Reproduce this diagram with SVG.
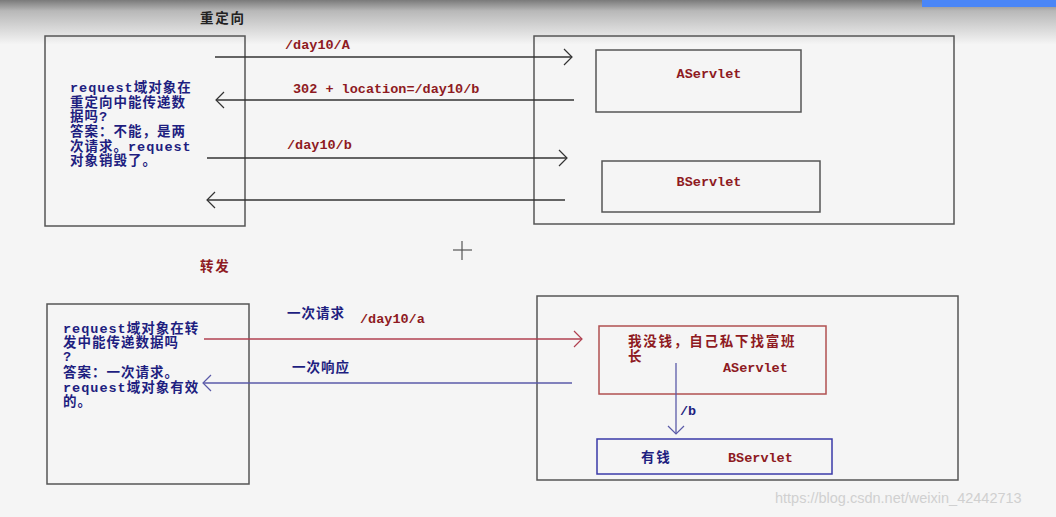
<svg xmlns="http://www.w3.org/2000/svg" width="1056" height="517" viewBox="0 0 1056 517">
<defs>
<linearGradient id="topg" x1="0" y1="0" x2="0" y2="1">
<stop offset="0" stop-color="#7a7a7a"/>
<stop offset="0.25" stop-color="#b8b8b8"/>
<stop offset="1" stop-color="#f4f4f4"/>
</linearGradient>
<marker id="ak" markerUnits="userSpaceOnUse" markerWidth="20" markerHeight="20" refX="10" refY="10" orient="auto">
<path d="M2,2 L10,10 L2,18" fill="none" stroke="#333" stroke-width="1.2"/>
</marker>
<marker id="ar" markerUnits="userSpaceOnUse" markerWidth="20" markerHeight="20" refX="10" refY="10" orient="auto">
<path d="M2,2 L10,10 L2,18" fill="none" stroke="#b04050" stroke-width="1.2"/>
</marker>
<marker id="ab" markerUnits="userSpaceOnUse" markerWidth="20" markerHeight="20" refX="10" refY="10" orient="auto">
<path d="M2,2 L10,10 L2,18" fill="none" stroke="#5a5aa8" stroke-width="1.2"/>
</marker>
</defs>
<style>
.box{fill:none;stroke:#555;stroke-width:1.5}
.t{font-family:"Liberation Mono","Noto Sans CJK SC",monospace;font-weight:bold;font-size:13.5px}
.ls1{letter-spacing:1px}
.ls2{letter-spacing:1.8px}
.navy{fill:#1e1e80}
.red{fill:#8e1a22}
.blk{fill:#222}
.wm{font-family:"Liberation Sans",Arial,sans-serif;font-size:14.5px;fill:#d0d0d0}
</style>
<rect width="1056" height="517" fill="#f5f5f5"/>
<rect x="0" y="0" width="1056" height="44" fill="url(#topg)"/>
<rect x="922" y="0" width="134" height="7" fill="#4a86f7"/>

<text class="t blk ls2" x="200" y="23">重定向</text>
<text class="t red ls2" x="200" y="271">转发</text>

<g id="client1">
<rect class="box" x="45" y="36" width="200" height="190"/>
<text class="t navy ls1" x="70" y="92">request域对象在</text>
<text class="t navy ls1" x="70" y="107">重定向中能传递数</text>
<text class="t navy ls1" x="70" y="121">据吗?</text>
<text class="t navy ls1" x="70" y="136">答案：不能，是两</text>
<text class="t navy ls1" x="70" y="151">次请求。request</text>
<text class="t navy ls1" x="70" y="165">对象销毁了。</text>
</g>
<g id="server1">
<rect class="box" x="534" y="36" width="420" height="188"/>
</g>
<g id="aservlet1">
<rect class="box" x="596" y="50" width="205" height="62"/>
<text class="t red" x="709" y="78" text-anchor="middle">AServlet</text>
</g>
<g id="bservlet1">
<rect class="box" x="602" y="161" width="218" height="51"/>
<text class="t red" x="709" y="186" text-anchor="middle">BServlet</text>
</g>

<g id="client2">
<rect class="box" x="47" y="304" width="202" height="180"/>
<text class="t navy ls1" x="63" y="333">request域对象在转</text>
<text class="t navy ls1" x="63" y="347">发中能传递数据吗</text>
<text class="t navy ls1" x="63" y="361">?</text>
<text class="t navy ls1" x="63" y="377">答案：一次请求。</text>
<text class="t navy ls1" x="63" y="392">request域对象有效</text>
<text class="t navy ls1" x="63" y="406">的。</text>
</g>
<g id="server2">
<rect class="box" x="537" y="296" width="421" height="184"/>
</g>
<g id="aservlet2">
<rect x="599" y="326" width="227" height="68" fill="none" stroke="#b05050" stroke-width="1.5"/>
<text class="t red ls2" x="628" y="346">我没钱，自己私下找富班</text>
<text class="t red" x="628" y="361">长</text>
<text class="t red" x="723" y="372">AServlet</text>
</g>
<g id="bservlet2">
<rect x="597" y="439" width="235" height="35" fill="none" stroke="#3a3aa8" stroke-width="1.5"/>
<text class="t navy ls2" x="641" y="462">有钱</text>
<text class="t red" x="728" y="462">BServlet</text>
</g>

<g id="connectors">
<line x1="215" y1="57" x2="572" y2="57" stroke="#333" stroke-width="1.3" marker-end="url(#ak)"/>
<line x1="574" y1="100" x2="216" y2="100" stroke="#333" stroke-width="1.3" marker-end="url(#ak)"/>
<line x1="207" y1="158" x2="567" y2="158" stroke="#333" stroke-width="1.3" marker-end="url(#ak)"/>
<line x1="565" y1="200" x2="207" y2="200" stroke="#333" stroke-width="1.3" marker-end="url(#ak)"/>
<line x1="204" y1="339" x2="582" y2="339" stroke="#b04050" stroke-width="1.3" marker-end="url(#ar)"/>
<line x1="572" y1="383" x2="203" y2="383" stroke="#5a5aa8" stroke-width="1.3" marker-end="url(#ab)"/>
<line x1="676" y1="363" x2="676" y2="434" stroke="#5a5aa8" stroke-width="1.3" marker-end="url(#ab)"/>
<text class="t red" x="285" y="49">/day10/A</text>
<text class="t red" x="293" y="93">302 + location=/day10/b</text>
<text class="t red" x="287" y="149">/day10/b</text>
<text class="t navy ls1" x="287" y="318">一次请求</text>
<text class="t red" x="360" y="323">/day10/a</text>
<text class="t navy ls1" x="292" y="372">一次响应</text>
<text class="t navy" x="680" y="415">/b</text>
</g>

<g id="cursor" stroke="#555" stroke-width="1.2">
<line x1="453" y1="250" x2="472" y2="250"/>
<line x1="462" y1="241" x2="462" y2="260"/>
</g>

<text class="wm" x="775" y="503">https://blog.csdn.net/weixin_42442713</text>
</svg>
